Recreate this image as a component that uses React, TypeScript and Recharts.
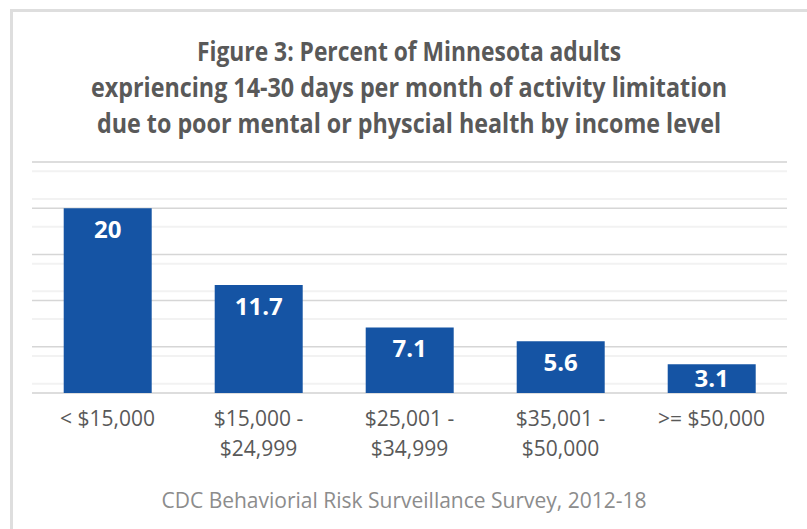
import React from 'react'
import { BarChart, Bar, XAxis, YAxis, CartesianGrid, LabelList } from 'recharts'

const CATEGORIES = ['< $15,000', '$15,000 -\n$24,999', '$25,001 -\n$34,999', '$35,001 -\n$50,000', '>= $50,000']
const VALUES = [20, 11.7, 7.1, 5.6, 3.1]
const GRID_VALUES = Array.from({ length: 26 }, (_, i) => i)
const MAJOR = GRID_VALUES.filter((v) => v % 5 === 0)
const MINOR = GRID_VALUES.filter((v) => v % 5 !== 0)

const TITLE_LINES = [
  { text: 'Figure 3: Percent of Minnesota adults', width: 424, y: 61 },
  { text: 'expriencing 14-30 days per month of activity limitation', width: 636, y: 97 },
  { text: 'due to poor mental or physcial health by income level', width: 624, y: 133 },
]
const SOURCE = 'CDC Behaviorial Risk Surveillance Survey, 2012-18'

const data = CATEGORIES.map((c, i) => ({ name: c, value: VALUES[i] }))

const FONT = '"Open Sans", "Noto Sans", sans-serif'

function IncomeTick(props: any) {
  const { x, y, payload } = props
  const lines = String(payload.value).split('\n')
  return (
    <g>
      {lines.map((l, i) => (
        <text
          key={i}
          x={x}
          y={y + 33 + i * 30}
          textAnchor="middle"
          fill="#595959"
          fontSize={21}
          fontFamily={FONT}
        >
          {l}
        </text>
      ))}
    </g>
  )
}

// value label sits near the top of the bar, pulled up a bit on short bars
function ValueLabel(props: any) {
  const { x, y, width, height, value } = props
  const dy = Math.min(30, height - 6)
  return (
    <text
      x={x + width / 2}
      y={y + dy}
      textAnchor="middle"
      fill="#ffffff"
      fontSize={24}
      fontWeight="bold"
      fontFamily={FONT}
    >
      {value}
    </text>
  )
}

export default function App() {
  return (
    <div style={{ position: 'absolute', left: 0, top: 0, width: 807, height: 529, overflow: 'hidden', background: '#fff' }}>
      <div
        style={{
          position: 'absolute',
          left: 10,
          top: 9,
          width: 794,
          height: 560,
          borderLeft: '3px solid #dedede',
          borderTop: '3px solid #dedede',
          borderRight: '1px solid #e6e6e6',
        }}
      />
      <div style={{ position: 'absolute', left: 0, top: 0 }}>
        <BarChart
          width={807}
          height={529}
          data={data}
          margin={{ top: 162, right: 20, bottom: 76, left: 32 }}
          barCategoryGap="21%"
        >
          <CartesianGrid vertical={false} yAxisId="minor" stroke="#f2f2f2" strokeWidth={2} />
          <CartesianGrid vertical={false} yAxisId="major" stroke="#d6d6d6" strokeWidth={1.5} />
          <YAxis yAxisId="minor" hide allowDataOverflow domain={[0, 25]} ticks={MINOR} />
          <YAxis yAxisId="major" hide allowDataOverflow domain={[0, 25]} ticks={MAJOR} />
          <XAxis
            dataKey="name"
            axisLine={false}
            tickLine={false}
            tickSize={0}
            tickMargin={0}
            height={60}
            interval={0}
            tick={<IncomeTick />}
          />
          <Bar yAxisId="major" dataKey="value" fill="#1554a4" isAnimationActive={false}>
            <LabelList dataKey="value" content={<ValueLabel />} />
          </Bar>
        </BarChart>
      </div>
      <svg width={807} height={529} style={{ position: 'absolute', left: 0, top: 0, pointerEvents: 'none' }}>
        {TITLE_LINES.map((t) => (
          <text
            key={t.text}
            x={409}
            y={t.y}
            textAnchor="middle"
            fill="#595959"
            fontSize={26}
            fontWeight="bold"
            fontFamily={FONT}
            textLength={t.width}
            lengthAdjust="spacingAndGlyphs"
          >
            {t.text}
          </text>
        ))}
        <text x={404} y={508} textAnchor="middle" fill="#8c8c8c" fontSize={21} fontFamily={FONT}>
          {SOURCE}
        </text>
      </svg>
    </div>
  )
}
